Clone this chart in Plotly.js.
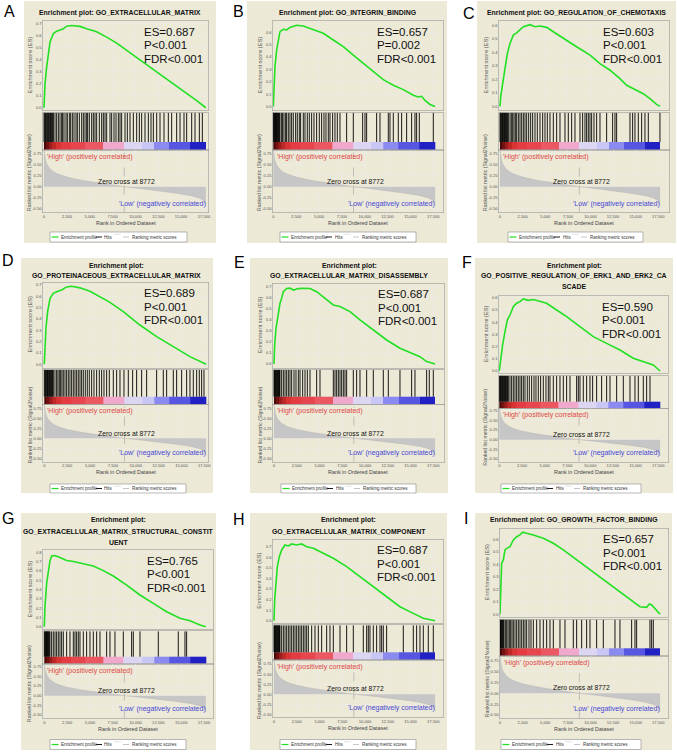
<!DOCTYPE html>
<html><head><meta charset="utf-8">
<script src="https://cdn.plot.ly/plotly-3.0.1.min.js"></script>
<style>html,body{margin:0;padding:0;background:#fff;}#chart{width:677px;height:755px;}</style>
</head><body><div id="chart"></div>
<script>
// ---------------- DATA ----------------
const panelLetters = ['A','B','C','D','E','F','G','H','I'];
const panelTitles = [
  ['Enrichment plot: GO_EXTRACELLULAR_MATRIX'],
  ['Enrichment plot: GO_INTEGRIN_BINDING'],
  ['Enrichment plot: GO_REGULATION_OF_CHEMOTAXIS'],
  ['Enrichment plot:','GO_PROTEINACEOUS_EXTRACELLULAR_MATRIX'],
  ['Enrichment plot:','GO_EXTRACELLULAR_MATRIX_DISASSEMBLY'],
  ['Enrichment plot:','GO_POSITIVE_REGULATION_OF_ERK1_AND_ERK2_CA','SCADE'],
  ['Enrichment plot:','GO_EXTRACELLULAR_MATRIX_STRUCTURAL_CONSTIT','UENT'],
  ['Enrichment plot:','GO_EXTRACELLULAR_MATRIX_COMPONENT'],
  ['Enrichment plot: GO_GROWTH_FACTOR_BINDING']
];
const esLabels  = ['ES=0.687','ES=0.657','ES=0.603','ES=0.689','ES=0.687','ES=0.590','ES=0.765','ES=0.687','ES=0.657'];
const pLabels   = ['P&lt;0.001','P=0.002','P&lt;0.001','P&lt;0.001','P&lt;0.001','P&lt;0.001','P&lt;0.001','P&lt;0.001','P&lt;0.001'];
const fdrLabels = ['FDR&lt;0.001','FDR&lt;0.001','FDR&lt;0.001','FDR&lt;0.001','FDR&lt;0.001','FDR&lt;0.001','FDR&lt;0.001','FDR&lt;0.001','FDR&lt;0.001'];

const datasetSize = 17700;
const zeroCross = 8772;
const xTickVals = [0,2500,5000,7500,10000,12500,15000,17500];
const xTickText = ['0','2,500','5,000','7,500','10,000','12,500','15,000','17,500'];
const rankTickVals = [0.75,0.5,0.25,0,-0.25,-0.5];
const rankTickText = ['0.75','0.50','0.25','0.00','-0.25','-0.50'];

// ranked list metric (Signal2Noise), shared by all panels
const metricRank  = [0,30,80,150,300,600,1000,1500,2500,4000,5500,7000,8772,10500,12500,14500,16000,17000,17500,17700];
const metricValue = [0.86,0.78,0.70,0.62,0.52,0.42,0.35,0.29,0.22,0.15,0.10,0.05,0,-0.04,-0.09,-0.15,-0.20,-0.26,-0.32,-0.42];

// colour band of the ranked list
const bandEdges  = [0,250,550,900,1300,1900,3000,4500,6500,8700,10700,12000,13700,16000,17700];
const bandColors = ['#4a0808','#701212','#9a1c1c','#c02828','#d83434','#e43c42','#e8464e','#ec5862','#f0a8cc','#dcd6f2','#c8c6f4','#8a8af0','#5656e2','#2020c4'];

// running enrichment score curves
const esRankA = [0,110,290,470,660,1020,1390,2110,2480,3030,3940,4670,5760,6850,7950,9770,11600,13420,15240,16700,17700];
const esValA  = [0,0.20,0.34,0.45,0.55,0.62,0.64,0.66,0.682,0.687,0.68,0.66,0.635,0.59,0.54,0.44,0.34,0.245,0.145,0.06,0];
const esRankB = [0,73,180,365,547,730,1094,1460,1820,2550,3280,4010,4740,5470,6560,7660,8750,9840,10940,12030,13130,14220,15310,15860,16230,16590,17140,17700];
const esValB  = [0,0.185,0.32,0.456,0.55,0.606,0.625,0.62,0.64,0.657,0.652,0.633,0.611,0.592,0.538,0.484,0.416,0.348,0.28,0.217,0.171,0.136,0.09,0.076,0.082,0.049,0.016,0];
const esRankC = [0,74,295,553,810,1105,1470,1840,2210,2580,3320,3870,4420,5160,5890,7000,8470,9950,11050,12160,13260,14000,14740,15840,16580,17310,17700];
const esValC  = [0,0.069,0.168,0.291,0.39,0.464,0.526,0.543,0.563,0.588,0.603,0.588,0.593,0.583,0.551,0.501,0.44,0.378,0.316,0.267,0.205,0.156,0.131,0.094,0.057,0.015,0];
const esRankD = [0,73,180,365,620,985,1350,1900,2440,2990,3900,5000,6090,7180,8640,10460,12290,14110,15930,17700];
const esValD  = [0,0.17,0.318,0.465,0.58,0.626,0.641,0.656,0.683,0.689,0.675,0.645,0.597,0.547,0.465,0.347,0.244,0.156,0.068,0];
const esRankE = [0,73,220,366,513,659,842,1025,1391,1757,2123,2672,3222,3954,4686,5784,6517,7249,8347,9445,10910,12374,13838,14937,16035,16767,17700];
const esValE  = [0,0.172,0.323,0.414,0.504,0.55,0.595,0.655,0.684,0.687,0.67,0.683,0.686,0.684,0.655,0.58,0.535,0.52,0.474,0.399,0.308,0.217,0.142,0.106,0.066,0.021,0];
const esRankF = [0,147,367,624,880,1174,1541,1908,2275,2642,3192,3742,4476,5210,6311,7411,8879,10347,11814,13282,14750,15850,16951,17700];
const esValF  = [0,0.104,0.213,0.322,0.417,0.458,0.526,0.554,0.567,0.59,0.578,0.585,0.567,0.554,0.499,0.445,0.363,0.281,0.226,0.172,0.104,0.076,0.049,0];
const esRankG = [0,73,256,438,621,804,1169,1717,2448,3178,4274,5370,6466,7562,9023,10484,11946,13407,14868,15964,17060,17700];
const esValG  = [0,0.215,0.466,0.61,0.71,0.76,0.765,0.745,0.712,0.702,0.68,0.652,0.603,0.545,0.448,0.341,0.251,0.161,0.09,0.065,0.018,0];
const esRankH = [0,73,220,366,586,842,1208,1574,1940,2490,3039,3588,4320,5418,6517,7981,9445,10910,12374,13838,15303,16401,17700];
const esValH  = [0,0.196,0.353,0.511,0.606,0.669,0.716,0.707,0.726,0.716,0.726,0.70,0.685,0.637,0.59,0.511,0.416,0.322,0.227,0.132,0.069,0.022,0];
const esRankI = [0,37,110,184,368,553,737,1105,1474,1842,2210,2505,2947,3684,4789,5894,7000,8473,9947,11420,12894,14368,15473,16210,16505,16763,17315,17700];
const esValI  = [0,0.141,0.328,0.408,0.435,0.515,0.528,0.541,0.595,0.621,0.635,0.657,0.648,0.635,0.608,0.568,0.515,0.435,0.355,0.275,0.195,0.115,0.061,0.056,0.083,0.075,0.035,0];

// gene-set hit positions (rank in ordered dataset)
const hitsA = [0,80,160,240,320,400,480,560,640,720,800,880,960,1020,1203,1386,1568,1750,1932,2042,2188,2406,2552,2771,2917,3099,3281,3500,3646,3865,4120,4302,4485,4667,4776,4959,5214,5396,5578,5761,6052,6308,6490,6672,6854,7219,7401,7657,7875,8131,8313,8495,8860,9115,9407,9771,10136,10428,10683,11047,11412,11704,11959,12324,12688,13126,13600,13964,14511,14876,15313,15605,16152,16516,16990,17318];
const hitsB = [0,60,120,180,240,300,360,420,480,540,600,660,730,912,1021,1167,1349,1458,1641,1823,2005,2188,2443,2625,2844,2990,3281,3464,3719,3938,4193,4448,4740,5031,5287,5542,5761,6016,6198,6490,6745,7000,7292,8021,8750,9771,10027,10209,11303,11667,12579,12761,13126,13673,14037,14584,15131,15496,15678,15970,17500];
const hitsC = [0,70,140,210,280,350,420,490,560,630,700,770,850,920,1105,1253,1400,1547,1695,1842,2026,2210,2395,2579,2763,2947,3168,3389,3610,3868,4126,4421,4716,4973,5231,5526,5894,6263,6631,7184,7552,7921,8289,8842,9136,9394,9578,9763,9947,10131,10389,10684,11052,11789,12452,12710,12894,14368,14662,14920,15289,15657,16025,16394,17683];
const hitsD = [0,70,140,210,280,350,420,490,560,630,700,770,840,910,985,1167,1349,1495,1641,1787,1932,2078,2261,2443,2625,2807,2990,3172,3354,3537,3719,3901,4084,4266,4485,4703,4922,5177,5433,5724,6016,6271,6526,6818,7110,7547,7912,8276,8714,9188,9662,10099,10646,11193,12287,13016,13381,14110,14475,15021,15568,15933,16298,16662,16954,17209,17464];
const hitsE = [0,60,120,180,240,300,360,420,480,540,600,660,842,1025,1208,1391,1574,1757,1940,2197,2416,2673,2856,3148,3405,3661,3954,4686,5052,6517,6700,6883,7066,7249,7432,7615,7798,7981,8713,9079,9445,10178,10910,12008,12557,13839,15120,15486,16767,17060,17500];
const hitsF = [0,70,140,210,280,350,420,490,560,630,700,770,850,920,990,1174,1358,1541,1724,1908,2091,2275,2458,2642,2825,3082,3302,3559,3816,4036,4293,4550,4843,5137,5393,5577,5944,6311,6678,7044,7411,7778,8512,8695,8879,9246,9613,9980,10273,10713,11264,11814,12181,12915,13649,14382,14933,15300,15850,16217,16584];
const hitsG = [0,60,120,180,240,300,360,420,480,550,620,804,986,1169,1352,1534,1717,1900,2082,2448,2813,3178,3361,3543,3726,3909,4274,4639,5005,5370,5735,6101,6831,7196,7744,8658,9571,9754,10484,12493,14685,15415,15598];
const hitsH = [0,60,120,180,240,300,360,420,480,540,600,660,842,1025,1208,1391,1574,1757,1940,2123,2306,2490,2673,2856,3039,3222,3405,3588,3771,4137,4503,4869,5235,5784,6150,6517,7249,7981,8713,9811,10178,10361,10544,10910,11276,11642,11825,12008,12374,14205,15303,15669,16035,16401,16950,17500];
const hitsI = [0,60,120,180,250,310,370,442,589,737,884,1032,1179,1326,1474,1658,1842,2026,2210,2395,2579,2763,2947,3205,3426,3684,4052,4421,4789,5158,5526,5894,6631,7184,8105,8473,9026,9578,9947,10684,11420,12710,13262,14552,14920,15104,16578,16763,16947];

const esRanks = [esRankA,esRankB,esRankC,esRankD,esRankE,esRankF,esRankG,esRankH,esRankI];
const esVals  = [esValA,esValB,esValC,esValD,esValE,esValF,esValG,esValH,esValI];
const hitSets = [hitsA,hitsB,hitsC,hitsD,hitsE,hitsF,hitsG,hitsH,hitsI];

// ---------------- LAYOUT GEOMETRY (pixels) ----------------
const geom = [
 {lab:[9,11],   box:[24,216,1,243],   ty:[13],              px:[43,208],  t:[44,204],     ys:[21,110.5,112.5,142,150,212.5],     es:[-0.023,0.725], rk:[-0.59,0.84],  leg:[50,187,232,242]},
 {lab:[238,12], box:[247,447,1,243],  ty:[12.7],            px:[273,443], t:[273.3,433.3],ys:[21,110.5,112.5,142,150,212.5],     es:[-0.033,0.692], rk:[-0.59,0.84],  leg:[280,416,232,242]},
 {lab:[469,13], box:[477,676,1,243],  ty:[12.7],            px:[499,669], t:[500,658.3],  ys:[21,110.5,112.5,142,150,212.5],     es:[-0.03,0.63],   rk:[-0.59,0.84],  leg:[508,643,232,242]},
 {lab:[8,260],  box:[21,213,258,493], ty:[265.7,275.7],      px:[43,208],  t:[44.3,204.3], ys:[282.3,367.7,369.7,396.7,404.3,461.7], es:[-0.03,0.724], rk:[-0.585,0.85], leg:[50,186,484,493]},
 {lab:[239,262],box:[250,448,258,493],ty:[265.7,275.7],      px:[273,444], t:[274,433.3],  ys:[283.3,367.7,369.7,396.7,404.3,461.7], es:[-0.034,0.731],rk:[-0.585,0.85], leg:[281,416,484,493]},
 {lab:[467,262],box:[475,673,258,493],ty:[265.7,275.7,286.2],px:[499,668], t:[499.3,658.3],ys:[295.7,373.3,375.5,401.7,408.3,461.7], es:[-0.019,0.616],rk:[-0.57,0.81],  leg:[501,641,484,493]},
 {lab:[8,518],  box:[21,216,513,750], ty:[520,531.2,542],    px:[43,213],  t:[44.3,204],   ys:[550,629.3,631.2,656.7,664,718.3],  es:[-0.028,0.825], rk:[-0.586,0.82], leg:[50,186,739.5,749.5]},
 {lab:[239,519],box:[250,447,513,750],ty:[520,531.5],        px:[273,443], t:[274,433.3],  ys:[539.3,623.3,625.2,652.3,660,717.3],es:[-0.025,0.77],  rk:[-0.575,0.85], leg:[280,416,739.5,749.5]},
 {lab:[466,518],box:[475,672,513,750],ty:[520],              px:[500,668], t:[500,658.3],  ys:[528.3,617.3,619.3,648.3,656,718.3],es:[-0.024,0.688], rk:[-0.575,0.86], leg:[501,641,739.5,749.5]}
];

const W = 677, H = 755;
const fx = p => p / W;
const fy = p => 1 - p / H;
const FONT = 'Liberation Sans, Arial, sans-serif';
const BEIGE = '#ece9d7';
const GRID = '#ececec';
const FRAME = '#9a9a9a';

const traces = [];
const layout = {
  width: W, height: H, margin: {l:0,r:0,t:0,b:0},
  paper_bgcolor: '#ffffff', plot_bgcolor: '#ffffff',
  showlegend: false, shapes: [], annotations: [], font: {family: FONT}
};

const nSeg = bandColors.length;
const bandScale = [];
bandColors.forEach((c,k) => { bandScale.push([k/nSeg, c]); bandScale.push([(k+1)/nSeg, c]); });
const bandZ = [bandColors.map((c,k) => k + 0.5)];
const tickFont = {size:4.1, color:'#555', family:FONT};

geom.forEach((g, i) => {
  const nE = 3*i+1, nH = 3*i+2, nR = 3*i+3;
  const ax = n => (n === 1 ? '' : String(n));
  const [esTop, esBot, hitTop, bandTop, rankTop, rankBot] = g.ys;
  const span = g.t[1] - g.t[0];
  const xMin = -17500 * (g.t[0] - g.px[0]) / span;
  const xMax = 17500 * (g.px[1] - g.t[0]) / span;
  const xdom = [fx(g.px[0]), fx(g.px[1])];
  const bf = (rankTop - bandTop) / (rankTop - hitTop);

  layout.shapes.push({type:'rect', xref:'paper', yref:'paper', layer:'below',
    x0:fx(g.box[0]), x1:fx(g.box[1]), y0:fy(g.box[3]), y1:fy(g.box[2]),
    fillcolor:BEIGE, line:{width:0}});

  const baseX = {domain:xdom, range:[xMin,xMax], showline:true, mirror:true, linecolor:FRAME, linewidth:0.6,
    zeroline:false, ticks:'', fixedrange:true};
  layout['xaxis'+ax(nE)] = Object.assign({}, baseX, {anchor:'y'+ax(nE), showticklabels:false, showgrid:true, gridcolor:GRID, gridwidth:0.5, tickvals:xTickVals});
  layout['yaxis'+ax(nE)] = {domain:[fy(esBot), fy(esTop)], range:g.es, anchor:'x'+ax(nE), dtick:0.1, tick0:0, tickformat:'.1f',
    showline:true, mirror:true, linecolor:FRAME, linewidth:0.6, zeroline:false, ticks:'', showgrid:true, gridcolor:GRID, gridwidth:0.5,
    tickfont:tickFont};
  layout['xaxis'+ax(nH)] = Object.assign({}, baseX, {anchor:'y'+ax(nH), showticklabels:false, showgrid:false});
  layout['yaxis'+ax(nH)] = {domain:[fy(rankTop), fy(hitTop)], range:[0,1], anchor:'x'+ax(nH), showticklabels:false, showgrid:false,
    showline:true, mirror:true, linecolor:FRAME, linewidth:0.6, zeroline:false, ticks:''};
  layout['xaxis'+ax(nR)] = Object.assign({}, baseX, {anchor:'y'+ax(nR), showgrid:true, gridcolor:GRID, gridwidth:0.5,
    tickvals:xTickVals, ticktext:xTickText, tickfont:tickFont});
  layout['yaxis'+ax(nR)] = {domain:[fy(rankBot), fy(rankTop)], range:g.rk, anchor:'x'+ax(nR),
    tickvals:rankTickVals, ticktext:rankTickText, showline:true, mirror:true, linecolor:FRAME, linewidth:0.6,
    zeroline:false, ticks:'', showgrid:true, gridcolor:GRID, gridwidth:0.5, tickfont:tickFont};

  traces.push({type:'heatmap', x:bandEdges, y:[0,bf], z:bandZ, zmin:0, zmax:nSeg, colorscale:bandScale,
    showscale:false, hoverinfo:'skip', xaxis:'x'+ax(nH), yaxis:'y'+ax(nH)});
  const hx = [], hy = [];
  hitSets[i].forEach(v => { hx.push(v, v, null); hy.push(bf, 1, null); });
  traces.push({type:'scatter', mode:'lines', name:'Hits', x:hx, y:hy, line:{color:'#000', width:0.9},
    hoverinfo:'skip', xaxis:'x'+ax(nH), yaxis:'y'+ax(nH)});
  traces.push({type:'scatter', mode:'lines', name:'Enrichment profile', x:esRanks[i], y:esVals[i],
    line:{color:'#22e022', width:1.6}, xaxis:'x'+ax(nE), yaxis:'y'+ax(nE)});
  traces.push({type:'scatter', mode:'lines', name:'Ranking metric scores', x:metricRank, y:metricValue,
    fill:'tozeroy', fillcolor:'#c6c6c6', line:{color:'#b4b4b4', width:0.5}, xaxis:'x'+ax(nR), yaxis:'y'+ax(nR)});

  layout.shapes.push({type:'line', xref:'x'+ax(nR), yref:'y'+ax(nR)+' domain', x0:zeroCross, x1:zeroCross, y0:0, y1:0.96,
    line:{color:'#a0a0a0', width:0.6, dash:'dash'}});

  // legend box
  const L = g.leg;
  layout.shapes.push({type:'rect', xref:'paper', yref:'paper', x0:fx(L[0]), x1:fx(L[1]), y0:fy(L[3]), y1:fy(L[2]),
    fillcolor:'#ffffff', line:{color:'#8a8a8a', width:0.6}});
  const ly = fy((L[2]+L[3])/2);
  const seg = (a,b,col,w) => layout.shapes.push({type:'line', xref:'paper', yref:'paper', x0:fx(L[0]+a), x1:fx(L[0]+b), y0:ly, y1:ly, line:{color:col, width:w}});
  seg(1.5, 8.5, '#22e022', 1.2);
  seg(46, 52, '#000000', 0.9);
  layout.shapes.push({type:'line', xref:'paper', yref:'paper', x0:fx(L[0]+64), x1:fx(L[0]+71), y0:fy(L[2]+2.2), y1:fy(L[2]+2.2), line:{color:'#dcdcdc', width:0.8}});
  seg(73, 79, '#b8b8b8', 0.8);
  const legText = (a, txt) => layout.annotations.push({xref:'paper', yref:'paper', x:fx(L[0]+a), y:ly, xanchor:'left', yanchor:'middle',
    text:txt, showarrow:false, font:{size:4.5, color:'#333', family:FONT}});
  legText(9, 'Enrichment profile');
  legText(52.5, 'Hits');
  legText(80, 'Ranking metric scores');

  layout.annotations.push({xref:'paper', yref:'paper', x:fx(g.lab[0]), y:fy(g.lab[1]), xanchor:'center', yanchor:'middle',
    text:panelLetters[i], showarrow:false, font:{size:16, color:'#000', family:FONT}});
  const cx = fx((g.box[0]+g.box[1])/2);
  panelTitles[i].forEach((t, k) => layout.annotations.push({xref:'paper', yref:'paper', x:cx, y:fy(g.ty[k]),
    xanchor:'center', yanchor:'middle', text:'<b>'+t+'</b>', showarrow:false, font:{size:6.9, color:'#111', family:FONT}}));
  [esLabels[i], pLabels[i], fdrLabels[i]].forEach((t, k) => layout.annotations.push({
    xref:'x'+ax(nE)+' domain', yref:'y'+ax(nE)+' domain', x:0.6, y:1, xanchor:'left', yanchor:'middle',
    yshift:-(11 + k*13.4), text:t, showarrow:false, font:{size:11.5, color:'#111', family:FONT}}));
  layout.annotations.push({xref:'paper', yref:'paper', x:fx(g.px[0]-13.5), y:fy((esTop+esBot)/2), textangle:-90,
    xanchor:'center', yanchor:'middle', text:'Enrichment score (ES)', showarrow:false, font:{size:5.6, color:'#555', family:FONT}});
  layout.annotations.push({xref:'paper', yref:'paper', x:fx(g.px[0]-13.5), y:fy(0.6*rankBot+0.4*hitTop), textangle:-90,
    xanchor:'center', yanchor:'middle', text:'Ranked list metric (Signal2Noise)', showarrow:false, font:{size:5.2, color:'#555', family:FONT}});
  layout.annotations.push({xref:'paper', yref:'paper', x:fx((g.px[0]+g.px[1])/2), y:fy(rankBot+10.5),
    xanchor:'center', yanchor:'middle', text:'Rank in Ordered Dataset', showarrow:false, font:{size:5.4, color:'#444', family:FONT}});
  layout.annotations.push({xref:'x'+ax(nR)+' domain', yref:'y'+ax(nR)+' domain', x:0, y:1, xanchor:'left', yanchor:'top',
    xshift:1.5, yshift:-1, text:"'High' (positively correlated)", showarrow:false, font:{size:7, color:'#e04848', family:FONT}});
  layout.annotations.push({xref:'x'+ax(nR), yref:'y'+ax(nR)+' domain', x:datasetSize, y:0, xanchor:'right', yanchor:'bottom',
    xshift:2, yshift:3, text:"'Low' (negatively correlated)", showarrow:false, font:{size:7, color:'#4848d8', family:FONT}});
  layout.annotations.push({xref:'x'+ax(nR), yref:'y'+ax(nR), x:zeroCross, y:0.13, xanchor:'center', yanchor:'middle',
    xshift:2, text:'Zero cross at 8772', showarrow:false, font:{size:6.8, color:'#111', family:FONT}});
});

Plotly.newPlot('chart', traces, layout, {staticPlot:true, displayModeBar:false});
</script></body></html>
